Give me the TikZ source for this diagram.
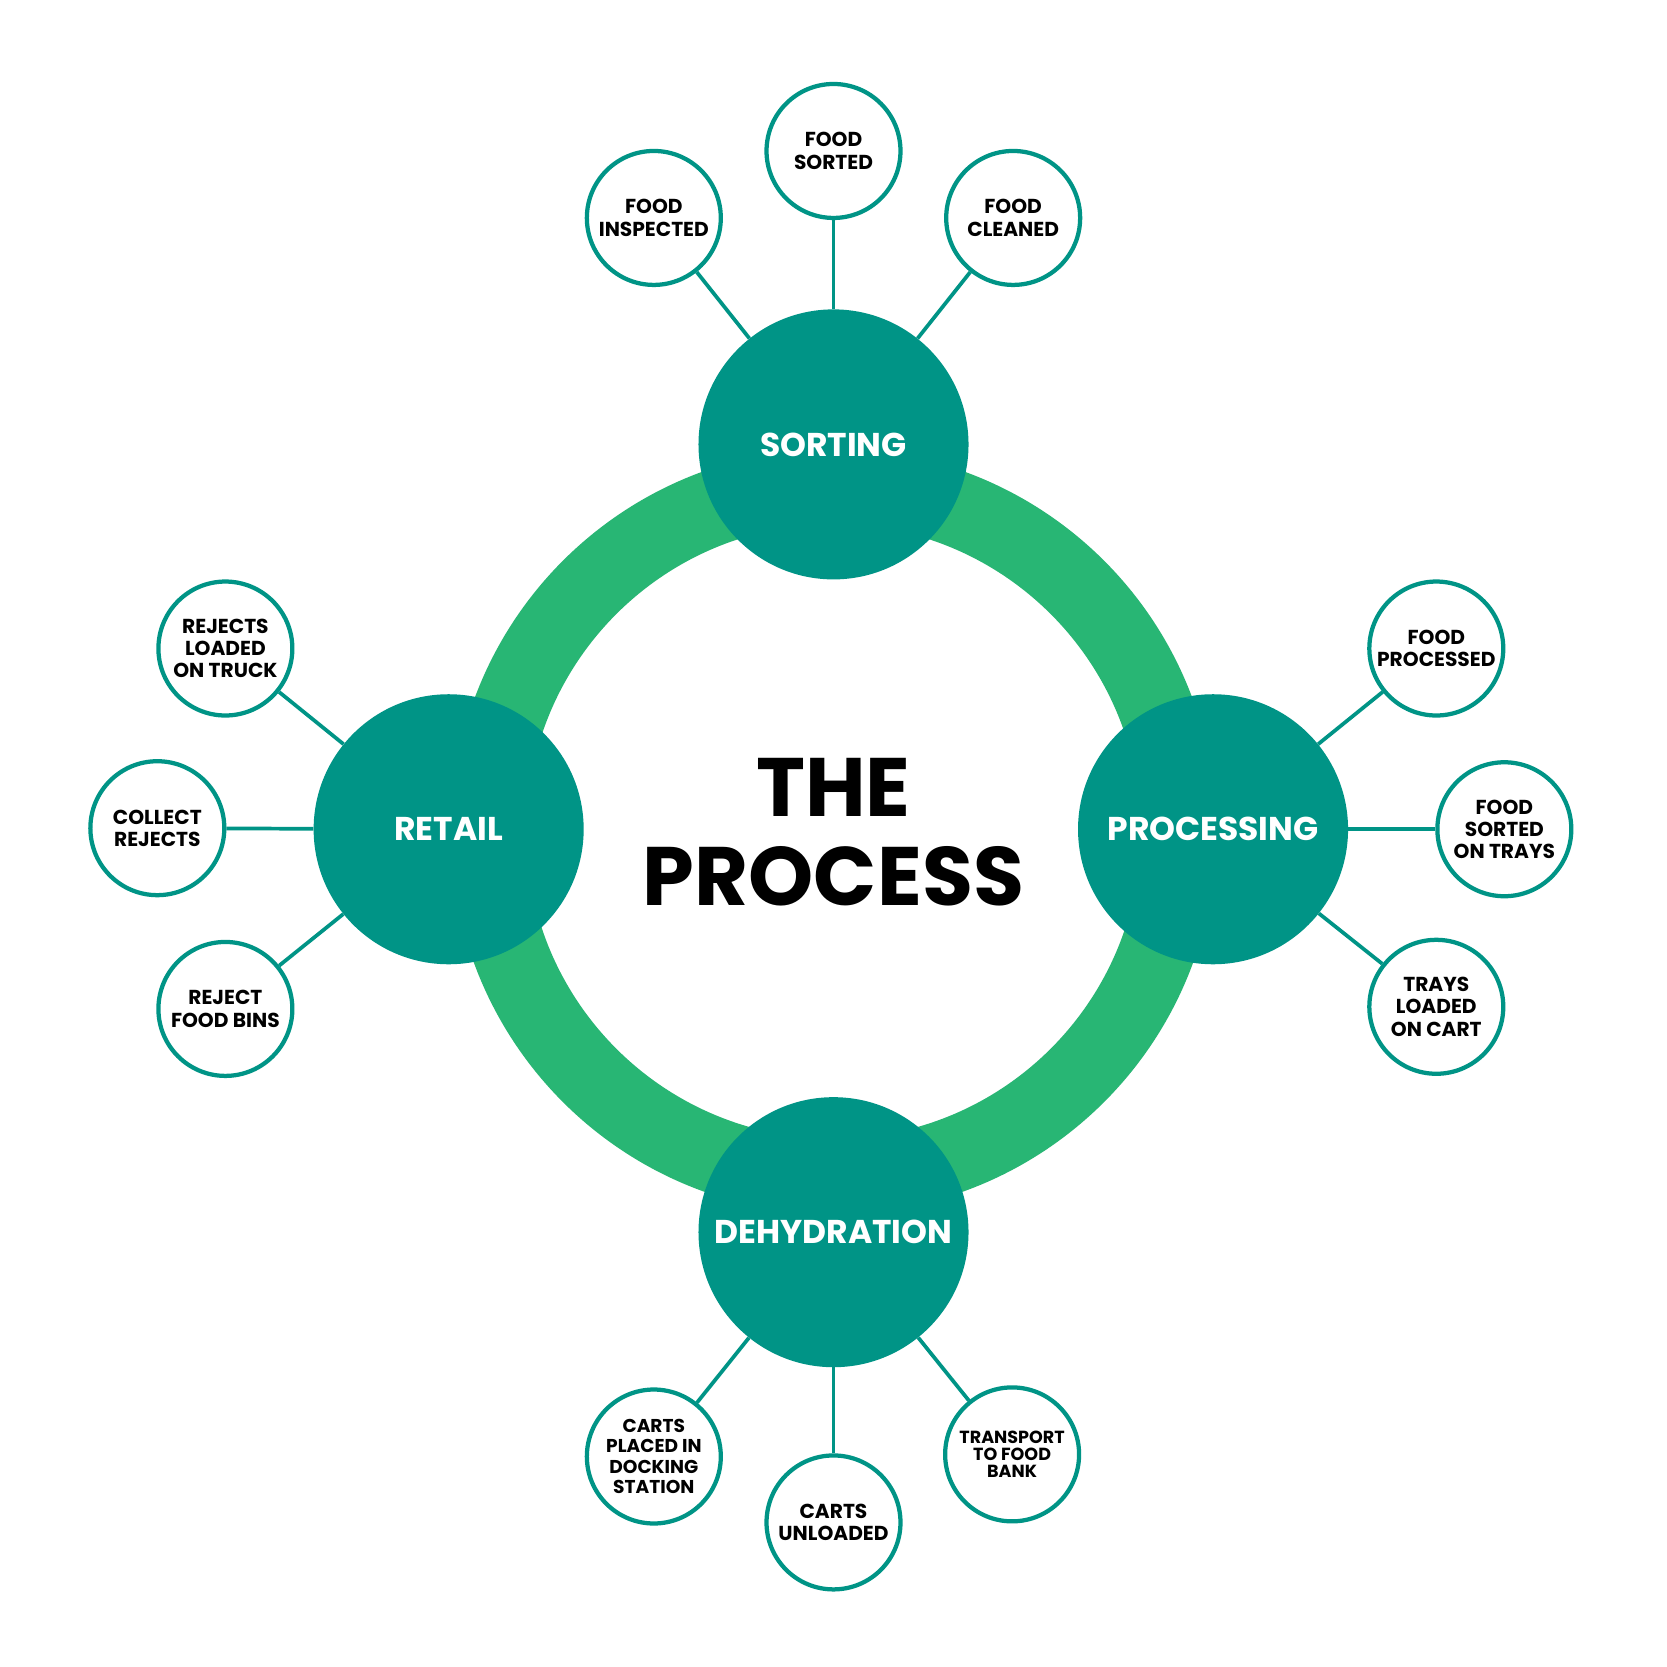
\documentclass[tikz,border=0pt]{standalone}
\usepackage{fontspec}
\setmainfont{Poppins}
\definecolor{tealc}{RGB}{0,148,134}
\definecolor{ringgreen}{RGB}{40,182,116}
\begin{document}
\begin{tikzpicture}[x=1pt,y=-1pt,
  big/.style={circle, fill=tealc, minimum size=254pt, inner sep=0pt, text=white,
    font=\fontsize{31}{31}\selectfont\bfseries},
  small/.style={circle, draw=tealc, line width=4pt, fill=white, minimum size=126pt,
    inner sep=0pt, align=center, font=\fontsize{19}{21}\selectfont\bfseries},
  link/.style={draw=tealc, line width=3.5pt},
  ring/.style={draw=ringgreen, line width=71pt},
  title/.style={align=center, font=\fontsize{78}{84}\selectfont\bfseries}]
\fill[white] (0,0) rectangle (1568,1568);
\useasboundingbox (0,0) rectangle (1568,1568);

% ring
\coordinate (C) at (784,782);
\draw[ring] (C) circle (324.5);

% small circles
\node[small] (fsorted) at (784,142) {FOOD\\SORTED};
\node[small] (finsp) at (615,205) {FOOD\\INSPECTED};
\node[small] (fclean) at (953,205) {FOOD\\CLEANED};
\node[small] (fproc) at (1351,610) {FOOD\\PROCESSED};
\node[small] (ftrays) at (1415,780) {FOOD\\SORTED\\ON TRAYS};
\node[small] (tcart) at (1351,947) {TRAYS\\LOADED\\ON CART};
\node[small] (rtruck) at (212,610) {REJECTS\\LOADED\\ON TRUCK};
\node[small] (crej) at (148,779) {COLLECT\\REJECTS};
\node[small] (rbins) at (212,949) {REJECT\\FOOD BINS};
\node[small, font=\fontsize{17.5}{19}\selectfont\bfseries] (cdock) at (615,1370) {CARTS\\PLACED IN\\DOCKING\\STATION};
\node[small] (cunl) at (784,1432) {CARTS\\UNLOADED};
\node[small, font=\fontsize{16.5}{15.7}\selectfont\bfseries] (ttfb) at (952,1368) {TRANSPORT\\TO FOOD\\BANK};

% big circles
\node[big] (S) at (784,418) {SORTING};
\node[big] (P) at (1141,780) {PROCESSING};
\node[big] (R) at (422,780) {RETAIL};
\node[big] (D) at (784,1159) {DEHYDRATION};

% links
\draw[link] (fsorted) -- (S);
\draw[link] (finsp) -- (S);
\draw[link] (fclean) -- (S);
\draw[link] (fproc) -- (P);
\draw[link] (ftrays) -- (P);
\draw[link] (tcart) -- (P);
\draw[link] (rtruck) -- (R);
\draw[link] (crej) -- (R);
\draw[link] (rbins) -- (R);
\draw[link] (cdock) -- (D);
\draw[link] (cunl) -- (D);
\draw[link] (ttfb) -- (D);

% title
\node[title] (T) at (784,783) {THE\\PROCESS};
\end{tikzpicture}
\end{document}
